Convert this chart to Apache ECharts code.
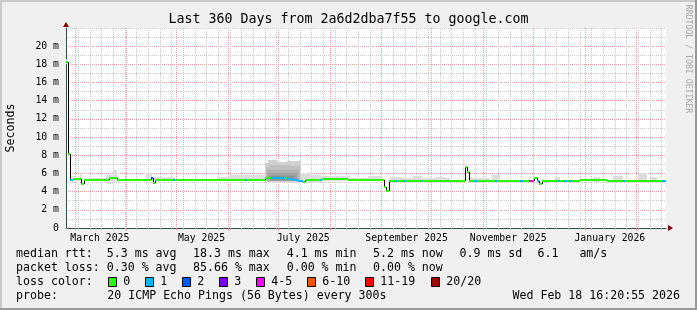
<!DOCTYPE html>
<html><head><meta charset="utf-8">
<script src="https://cdn.jsdelivr.net/npm/echarts@6/dist/echarts.min.js"></script>
<style>html,body{margin:0;padding:0;background:#f0f0f0}#c{width:697px;height:310px}</style>
</head><body><div id="c"></div>
<script>
// ---------------- data ----------------
const titleText = 'Last 360 Days from 2a6d2dba7f55 to google.com';
const rangeStart = '2025-02-23 16:20:55';
const rangeEnd = '2026-02-18 16:20:55';
const firstMonday = '2025-02-24';
const monthStarts = ['2025-03-01','2025-04-01','2025-05-01','2025-06-01','2025-07-01','2025-08-01',
  '2025-09-01','2025-10-01','2025-11-01','2025-12-01','2026-01-01','2026-02-01'];
const monthLabelAt = ['2025-03-16','2025-05-16','2025-07-16','2025-09-16','2025-11-16','2026-01-16'];
const monthLabels = ['March 2025','May 2025','July 2025','September 2025','November 2025','January 2026'];
const yMajor = [0,2,4,6,8,10,12,14,16,18,20];
const yMinor = [1,3,5,7,9,11,13,15,17,19,21,22];

const lossLabels = ['0','1','2','3','4-5','6-10','11-19','20/20'];
const lossColors = ['#26ff00','#00b8ff','#0059ff','#7e00ff','#ff00ff','#ff5500','#ff0000','#a10000'];

// median rtt (ms), value holds from each start until the next
const medStart = [
 '2025-02-23 16:20','2025-02-24 21:00','2025-02-25 19:00','2025-02-27 17:00','2025-03-04 12:00',
 '2025-03-06 11:00','2025-03-21 16:00','2025-03-26 11:00','2025-04-15 12:00','2025-04-16 17:00',
 '2025-04-18 02:00','2025-04-29 01:00','2025-04-30 02:00','2025-06-11 02:00','2025-06-12 11:00',
 '2025-06-23 02:00','2025-06-26 16:00','2025-07-05 02:00','2025-07-06 07:00','2025-07-09 21:00',
 '2025-07-12 21:00','2025-07-15 21:00','2025-07-17 02:00','2025-07-26 02:00','2025-07-27 02:00',
 '2025-08-12 01:00','2025-09-02 11:00','2025-09-03 23:00','2025-09-05 11:00','2025-09-09 02:00',
 '2025-09-10 02:00','2025-09-14 01:00','2025-09-15 02:00','2025-09-25 02:00','2025-09-26 01:00',
 '2025-10-16 02:00','2025-10-17 01:00','2025-10-20 22:00','2025-10-22 11:00','2025-10-23 16:00',
 '2025-10-26 11:00','2025-10-28 07:00','2025-11-08 02:00','2025-11-09 07:00','2025-11-23 02:00',
 '2025-11-24 17:00','2025-11-28 16:00','2025-12-01 16:00','2025-12-03 02:00','2025-12-04 16:00',
 '2025-12-06 02:00','2025-12-15 21:00','2025-12-17 02:00','2025-12-19 01:00','2025-12-21 02:00',
 '2025-12-22 07:00','2025-12-24 02:00','2025-12-29 02:00','2026-01-14 07:00','2026-01-23 21:00',
 '2026-01-25 02:00','2026-02-16 02:00'];
const medMs = [
 18.3, 8.1, 5.3, 5.4, 4.8,
 5.3, 5.45, 5.3, 5.55, 4.95,
 5.3, 5.3, 5.3, 5.3, 5.3,
 5.55, 5.45, 5.45, 5.4, 5.3,
 5.15, 5.05, 5.28, 5.28, 5.4,
 5.25, 4.5, 4.1, 5.2, 5.2,
 5.2, 5.2, 5.2, 5.2, 5.2,
 5.2, 5.2, 6.76, 6.2, 5.13,
 5.15, 5.15, 5.15, 5.15, 5.15,
 5.15, 5.2, 5.45, 5.15, 4.8,
 5.2, 5.2, 5.2, 5.2, 5.2,
 5.2, 5.2, 5.3, 5.2, 5.2,
 5.2, 5.2];
const medLoss = [
 0,0,1,0,0,
 0,0,0,2,0,
 0,1,0,1,0,
 0,1,0,1,1,
 1,0,0,1,0,
 0,0,0,0,1,
 0,1,0,1,0,
 1,0,0,0,0,
 1,0,1,0,1,
 0,4,0,1,0,
 0,1,0,1,0,
 1,0,0,0,1,
 0,1];

// smoke (ping spread) patches
const smokeFrom = ['2025-02-23 16:20','2025-02-27 21:00','2025-03-04 02:00','2025-03-08 21:00','2025-03-19 16:00','2025-03-23 21:00',
 '2025-04-12 16:00','2025-04-16 07:00','2025-05-25 07:00','2025-06-02 02:00',
 '2025-06-23 02:00','2025-06-25 04:00','2025-06-30 07:00','2025-07-06 07:00',
 '2025-06-23 16:00','2025-06-26 02:00','2025-07-08 02:00','2025-06-24 07:00','2025-06-24 21:00','2025-06-26 02:00',
 '2025-07-14 16:00','2025-07-21 07:00','2025-07-26 16:00','2025-08-13 02:00','2025-08-23 21:00',
 '2025-09-06 02:00','2025-09-13 07:00','2025-09-19 21:00','2025-10-03 02:00','2025-10-24 02:00','2025-11-06 02:00',
 '2025-12-14 02:00','2026-01-05 21:00','2026-01-17 21:00','2026-02-01 21:00','2026-02-09 02:00'];
const smokeTo = ['2025-02-24 21:00','2025-03-04 02:00','2025-03-05 07:00','2025-03-19 16:00','2025-03-26 21:00','2025-03-26 07:00',
 '2025-04-16 07:00','2025-04-30 02:00','2025-06-02 02:00','2025-06-23 02:00',
 '2025-06-25 04:00','2025-06-30 07:00','2025-07-06 07:00','2025-07-14 16:00',
 '2025-06-26 02:00','2025-07-08 02:00','2025-07-14 02:00','2025-07-13 11:00','2025-07-12 07:00','2025-07-11 02:00',
 '2025-07-21 07:00','2025-07-26 16:00','2025-08-13 02:00','2025-08-23 21:00','2025-09-01 21:00',
 '2025-09-13 07:00','2025-10-12 02:00','2025-09-25 07:00','2025-10-09 02:00','2025-11-05 02:00','2025-11-11 02:00',
 '2025-12-17 02:00','2026-01-10 02:00','2026-01-23 21:00','2026-02-07 07:00','2026-02-13 07:00'];
const smokeLow = [18.0, 5.2, 5.2, 5.2, 5.2, 5.2,
 5.2, 5.2, 5.2, 5.2,
 5.1, 5.1, 5.1, 5.1,
 5.15, 5.15, 5.15, 5.2, 5.2, 5.25,
 5.1, 5.1, 5.2, 5.15, 5.15,
 5.1, 5.1, 5.1, 5.1, 5.05, 5.1,
 5.1, 5.1, 5.1, 5.1, 5.1];
const smokeTop = [18.6, 5.55, 6.0, 5.5, 5.8, 6.4,
 6.0, 5.65, 5.6, 5.8,
 7.1, 7.45, 7.3, 7.4,
 6.7, 6.95, 6.8, 6.4, 6.0, 5.7,
 6.0, 5.85, 5.7, 5.55, 5.7,
 5.65, 5.5, 5.7, 5.65, 5.45, 5.8,
 5.65, 5.65, 5.7, 6.1, 5.6];
const smokeShade = [0,0,0,0,0,0, 0,0,0,0, 1,1,1,1, 2,2,2,3,4,5, 0,0,0,0,0, 0,0,0,0,0,0, 0,0,0,0,0];
const smokeColors = ['#dddddd','#d0d0d0','#c0c0c0','#b0b0b0','#a0a0a0','#909090'];

// legend statistics
const medianStats = ['5.3','18.3','4.1','5.2','0.9','6.1'];
const lossStats = ['0.30','85.66','0.00','0.00'];
const probeText = '20 ICMP Echo Pings (56 Bytes) every 300s';
const stampText = 'Wed Feb 18 16:20:55 2026';

// ---------------- chart ----------------
const P = s => { const m = s.match(/^(\d{4})-(\d{2})-(\d{2})(?:[ T](\d{2}):(\d{2})(?::(\d{2}))?)?$/);
  return Date.UTC(+m[1], +m[2]-1, +m[3], +(m[4]||0), +(m[5]||0), +(m[6]||0)); };
const FONT = 'DejaVu Sans Mono';
const tMin = P(rangeStart), tMax = P(rangeEnd);
const monthTs = monthStarts.map(P);
const weekTs = [];
for (let t = P(firstMonday); t < tMax; t += 7 * 864e5) if (monthTs.indexOf(t) < 0) weekTs.push(t);
const labelTs = monthLabelAt.map(P);
const labelFor = v => { let best = 0; labelTs.forEach((t, i) => { if (Math.abs(t - v) < Math.abs(labelTs[best] - v)) best = i; }); return monthLabels[best]; };

// [from, to, median, lossIndex, previousMedian]
const medBands = medStart.map((d, i) => [P(d), i + 1 < medStart.length ? P(medStart[i + 1]) : tMax,
  medMs[i], medLoss[i], i > 0 ? medMs[i - 1] : medMs[i]]);
const smokeData = smokeFrom.map((d, i) => [P(d), P(smokeTo[i]), smokeLow[i], smokeTop[i], smokeShade[i]]);

const chart = echarts.init(document.getElementById('c'), null, { renderer: 'canvas', width: 697, height: 310 });

const txt = (x, y, text, extra) => Object.assign({ type: 'text', x: x, y: y, silent: true,
  style: Object.assign({ text: text, font: '11.6px "' + FONT + '"', fill: '#000', align: 'left', verticalAlign: 'middle',
    textAlign: 'left', textVerticalAlign: 'middle' }, extra || {}) });

const legendX = [16, 193, 286.7, 373, 459.5, 537.5];
const graphics = [
  { type: 'rect', silent: true, shape: { x: 0, y: 0, width: 697, height: 2 }, style: { fill: '#cbcbcb' } },
  { type: 'rect', silent: true, shape: { x: 0, y: 0, width: 2, height: 310 }, style: { fill: '#cbcbcb' } },
  { type: 'rect', silent: true, shape: { x: 0, y: 308, width: 697, height: 2 }, style: { fill: '#999999' } },
  { type: 'rect', silent: true, shape: { x: 695, y: 0, width: 2, height: 310 }, style: { fill: '#999999' } },
  txt(348.5, 19.5, titleText, { font: '13.3px "' + FONT + '"', align: 'center', textAlign: 'center' }),
  Object.assign(txt(688.5, 59, 'RRDTOOL / TOBI OETIKER', { font: '8.2px "' + FONT + '"', fill: '#a8a8a8', align: 'center', textAlign: 'center' }), { rotation: -Math.PI / 2 }),
  txt(legendX[0], 254, 'median rtt:  ' + medianStats[0] + ' ms avg'),
  txt(legendX[1], 254, medianStats[1] + ' ms max'),
  txt(legendX[2], 254, medianStats[2] + ' ms min'),
  txt(legendX[3], 254, medianStats[3] + ' ms now'),
  txt(legendX[4], 254, medianStats[4] + ' ms sd'),
  txt(legendX[5], 254, medianStats[5] + '   am/s'),
  txt(legendX[0], 268, 'packet loss: ' + lossStats[0] + ' % avg'),
  txt(legendX[1], 268, lossStats[1] + ' % max'),
  txt(legendX[2], 268, lossStats[2] + ' % min'),
  txt(legendX[3], 268, lossStats[3] + ' % now'),
  txt(16, 282, 'loss color:'),
  txt(16, 296, 'probe:'),
  txt(107.3, 296, probeText),
  txt(680, 296, stampText, { align: 'right', textAlign: 'right' })
];
const boxX = [108.5, 145.5, 182.5, 219.5, 256.5, 307.5, 365.5, 431.5];
lossLabels.forEach((l, i) => {
  graphics.push({ type: 'rect', silent: true, shape: { x: boxX[i], y: 277.5, width: 8, height: 9 },
    style: { fill: lossColors[i], stroke: '#000', lineWidth: 1 } });
  graphics.push(txt(boxX[i] + 14.8, 282, l));
});

const rectItem = (x0, y0, x1, y1, fill) => ({ type: 'rect',
  shape: { x: Math.round(x0), y: Math.round(y0), width: Math.round(x1) - Math.round(x0), height: Math.round(y1) - Math.round(y0) },
  style: { fill: fill } });

chart.setOption({
  backgroundColor: '#f0f0f0',
  animation: false,
  grid: { left: 66, top: 28, width: 600, height: 200, show: true, backgroundColor: '#ffffff', borderWidth: 0, outerBoundsMode: 'none', containLabel: false },
  xAxis: [
    { type: 'value', min: tMin, max: tMax, position: 'bottom', scale: true,
      axisLine: { show: true, onZero: false, lineStyle: { color: '#2c4d43', width: 1 } },
      axisTick: { show: true, length: 2, customValues: monthTs, lineStyle: { color: '#ff8080' } },
      axisLabel: { show: true, customValues: labelTs, formatter: v => labelFor(v), fontFamily: FONT, fontSize: 9.8, color: '#000', margin: 5 },
      splitLine: { show: true, lineStyle: { color: '#f29b9b', type: [1, 1], width: 1 } } },
    { type: 'value', min: tMin, max: tMax, position: 'bottom', scale: true,
      axisLine: { show: true, onZero: false, symbol: ['none', 'triangle'], symbolSize: [6, 5], symbolOffset: [0, 4.5], lineStyle: { color: '#7f0000', width: 0 } },
      axisTick: { show: true, length: 2, customValues: weekTs, lineStyle: { color: '#c0c0c0' } },
      axisLabel: { show: false },
      splitLine: { show: true, lineStyle: { color: '#c8c8c8', type: [1, 1], width: 1 } } }
  ],
  yAxis: [
    { type: 'value', min: 0, max: 22, interval: 2, position: 'left',
      name: 'Seconds', nameLocation: 'middle', nameRotate: 90, nameGap: 49,
      nameTextStyle: { fontFamily: FONT, fontSize: 11.6, color: '#000' },
      axisLine: { show: true, onZero: false, lineStyle: { color: '#2c4d43', width: 1 } },
      axisTick: { show: false, customValues: yMajor },
      axisLabel: { customValues: yMajor, formatter: v => v === 0 ? '0' : v + ' m', fontFamily: FONT, fontSize: 9.8, color: '#000', margin: 7 },
      splitLine: { show: true, lineStyle: { color: '#f29b9b', type: [1, 1], width: 1 } } },
    { type: 'value', min: 0, max: 22, position: 'left',
      axisLine: { show: true, onZero: false, symbol: ['none', 'triangle'], symbolSize: [6, 5], symbolOffset: [0, 3.5], lineStyle: { color: '#7f0000', width: 0 } },
      axisTick: { show: false, customValues: yMinor },
      axisLabel: { show: false },
      splitLine: { show: true, lineStyle: { color: '#c8c8c8', type: [1, 1], width: 1 } } }
  ],
  series: [
    { type: 'custom', name: 'smoke', silent: true, z: 1, xAxisIndex: 0, yAxisIndex: 0,
      dimensions: ['from', 'to', 'low', 'top', 'shade'], encode: { x: [0, 1], y: [2, 3] },
      data: smokeData,
      renderItem: (params, api) => {
        const a = api.coord([api.value(0), api.value(3)]);
        const b = api.coord([api.value(1), api.value(2)]);
        return rectItem(a[0], a[1], b[0], b[1], smokeColors[api.value(4)]);
      } },
    { type: 'custom', name: 'median rtt', silent: true, z: 5, xAxisIndex: 0, yAxisIndex: 0,
      dimensions: ['from', 'to', 'ms', 'loss', 'prev'], encode: { x: [0, 1], y: 2 },
      data: medBands,
      renderItem: (params, api) => {
        const a = api.coord([api.value(0), api.value(2)]);
        const b = api.coord([api.value(1), api.value(2)]);
        const p = api.coord([api.value(0), api.value(4)]);
        const y = Math.round(a[1]), yp = Math.round(p[1]);
        const x = Math.round(a[0]) + 0.5;
        return { type: 'group', children: [
          { type: 'line', shape: { x1: x, y1: yp, x2: x, y2: y }, style: { stroke: '#000', lineWidth: 1 } },
          rectItem(a[0], y - 1, b[0], y + 1, lossColors[api.value(3)])
        ] };
      } }
  ],
  graphic: graphics
});
</script></body></html>
